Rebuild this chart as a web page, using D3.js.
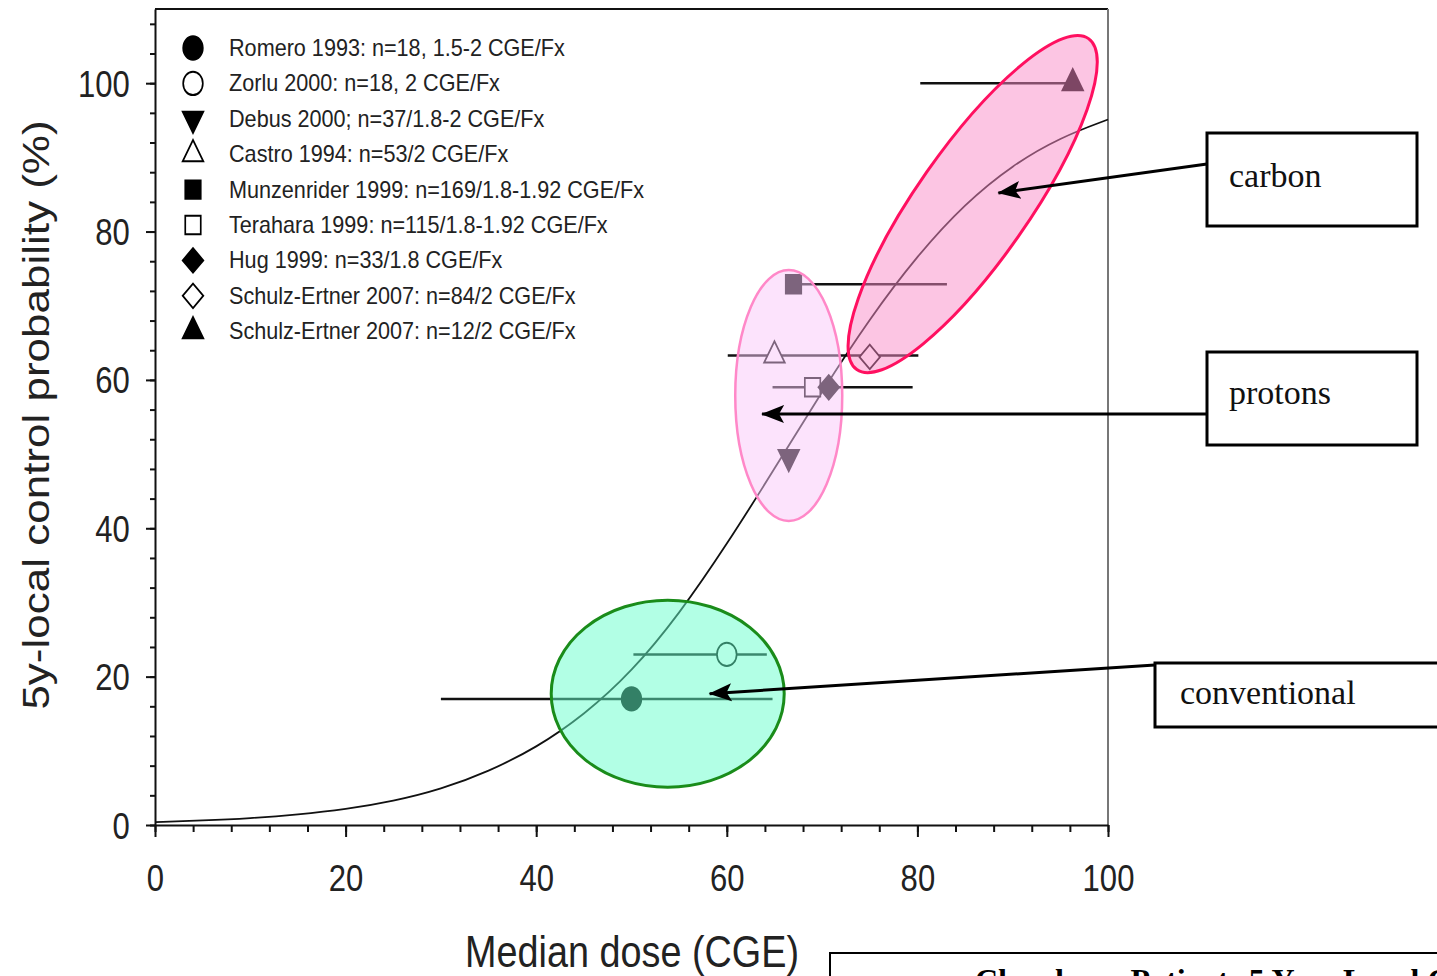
<!DOCTYPE html>
<html>
<head>
<meta charset="utf-8">
<script src="https://d3js.org/d3.v7.min.js"></script>
<style>
  body { margin: 0; background: #fff; overflow: hidden; }
  text { font-family: "Liberation Sans", Arial, sans-serif; }
  .serif { font-family: "Liberation Serif", "Times New Roman", serif; }
</style>
</head>
<body>
<div id="plot"></div>
<script>
// Study data
const studies = [
  "Romero 1993: n=18, 1.5-2 CGE/Fx",
  "Zorlu 2000: n=18, 2 CGE/Fx",
  "Debus 2000; n=37/1.8-2 CGE/Fx",
  "Castro 1994: n=53/2 CGE/Fx",
  "Munzenrider 1999: n=169/1.8-1.92 CGE/Fx",
  "Terahara 1999: n=115/1.8-1.92 CGE/Fx",
  "Hug 1999: n=33/1.8 CGE/Fx",
  "Schulz-Ertner 2007: n=84/2 CGE/Fx",
  "Schulz-Ertner 2007: n=12/2 CGE/Fx"
];
const shapes = ["circle", "circle", "triangleDown", "triangle", "square", "square", "diamond", "diamond", "triangle"];
const filled = [true, false, true, false, true, false, true, false, true];
const medianDose = [50, 60, 66.5, 65, 67, 69, 70.7, 75, 96.3];
const localControl = [17, 23, 49.6, 63.3, 72.9, 59, 59, 63.1, 100];
const doseLow = [30, 50.2, null, 60.1, 67, 64.8, null, null, 80.3];
const doseHigh = [64.8, 64.2, null, 80.1, 83.1, 79.5, null, null, 96.3];

// Dose-response curve
const curveDose = [0, 5, 10, 15, 20, 25, 30, 35, 40, 45, 50, 55, 60, 65, 70, 75, 80, 85, 90, 95, 100];
const curveProb = [0.4, 0.6, 0.9, 1.4, 2.1, 3.2, 4.8, 7.2, 10.4, 14.8, 20.6, 28.4, 37.8, 48, 58.5, 68.3, 76.8, 83.8, 89, 92.7, 95.1];

// Groups (ellipse centres and arrow tips, data units)
const groupNames = ["conventional", "protons", "carbon"];
const groupDose = [53.8, 66.5, 85.8];
const groupProb = [17.7, 57.9, 83.7];
const arrowTipDose = [58.2, 63.7, 88.5];
const arrowTipProb = [17.7, 55.4, 85.2];

// Axis ticks
const xMajor = [0, 20, 40, 60, 80, 100];
const yMajor = [0, 20, 40, 60, 80, 100];
const minorStep = 4;

const W = 1437, H = 976;
const sx = 0.84; // horizontal squeeze of the original picture

const svg = d3.select("#plot").append("svg")
    .attr("width", W)
    .attr("height", H);

const x = d3.scaleLinear().domain([0, 100]).range([155, 1108]);
const y = d3.scaleLinear().domain([0, 110]).range([825, 9]);

// Frame (top and right)
svg.append("line").attr("x1", 155).attr("x2", 1108).attr("y1", 9).attr("y2", 9)
    .attr("stroke", "#111").attr("stroke-width", 2);
svg.append("line").attr("x1", 1108).attr("x2", 1108).attr("y1", 9).attr("y2", 825)
    .attr("stroke", "#777").attr("stroke-width", 2);

// Minor ticks
svg.append("g").attr("transform", "translate(0,825)")
    .call(d3.axisBottom(x).tickValues(d3.range(0, 101, minorStep)).tickSize(7).tickSizeOuter(0).tickFormat(""))
    .call(g => g.selectAll("line,path").attr("stroke", "#111").attr("stroke-width", 2));
svg.append("g").attr("transform", "translate(155,0)")
    .call(d3.axisLeft(y).tickValues(d3.range(0, 109, minorStep)).tickSize(5).tickSizeOuter(0).tickFormat(""))
    .call(g => g.selectAll("line,path").attr("stroke", "#111").attr("stroke-width", 2));

// Major ticks with labels
svg.append("g").attr("transform", "translate(0,825)")
    .call(d3.axisBottom(x).tickValues(xMajor).tickSize(12).tickSizeOuter(0))
    .call(g => g.select(".domain").remove())
    .call(g => g.selectAll("line").attr("stroke", "#111").attr("stroke-width", 2))
    .call(g => g.selectAll("text")
        .attr("y", 66).attr("dy", null)
        .attr("transform", `scale(${sx},1)`)
        .attr("fill", "#222")
        .style("font-size", "37px")
        .style("font-family", "'Liberation Sans', Arial, sans-serif"));

svg.append("g").attr("transform", "translate(155,0)")
    .call(d3.axisLeft(y).tickValues(yMajor).tickSize(9).tickSizeOuter(0))
    .call(g => g.select(".domain").remove())
    .call(g => g.selectAll("line").attr("stroke", "#111").attr("stroke-width", 2))
    .call(g => g.selectAll("text")
        .attr("x", -30).attr("y", 13).attr("dy", null)
        .attr("transform", `scale(${sx},1)`)
        .attr("fill", "#222")
        .style("font-size", "37px")
        .style("font-family", "'Liberation Sans', Arial, sans-serif"));

// Axis titles
svg.append("text")
    .attr("transform", `translate(632,967) scale(${sx},1)`)
    .attr("text-anchor", "middle")
    .attr("fill", "#222")
    .style("font-size", "45px")
    .text("Median dose (CGE)");

svg.append("text")
    .attr("transform", `translate(49,415) scale(${sx},1) rotate(-90)`)
    .attr("text-anchor", "middle")
    .attr("fill", "#222")
    .style("font-size", "44px")
    .text("5y-local control probability (%)");

// Symbol helper
function symbolPath(shape) {
  if (shape === "circle") return d3.symbol(d3.symbolCircle, 430)();
  if (shape === "square") return d3.symbol(d3.symbolSquare, 340)();
  if (shape === "diamond") return d3.symbol(d3.symbolSquare, 300)();
  return d3.symbol(d3.symbolTriangle, 260)();
}
function symbolRotate(shape) {
  if (shape === "diamond") return 45;
  if (shape === "triangleDown") return 180;
  return 0;
}

// Legend
const legend = svg.append("g");
studies.forEach((name, i) => {
  const ly = 48 + i * 35.4;
  legend.append("path")
      .attr("d", symbolPath(shapes[i]))
      .attr("transform", `translate(193,${ly}) scale(${sx},1) rotate(${symbolRotate(shapes[i])})`)
      .attr("fill", filled[i] ? "#000" : "#fff")
      .attr("stroke", "#000")
      .attr("stroke-width", 2);
  legend.append("text")
      .attr("transform", `translate(229,${ly + 8}) scale(0.94,1)`)
      .attr("fill", "#222")
      .style("font-size", "23px")
      .text(name);
});

// Dose-response curve
const line = d3.line()
    .x((d, i) => x(curveDose[i]))
    .y(d => y(d))
    .curve(d3.curveBasis);
svg.append("path")
    .attr("d", line(curveProb))
    .attr("fill", "none")
    .attr("stroke", "#111")
    .attr("stroke-width", 1.8);

// Error bars
studies.forEach((name, i) => {
  if (doseLow[i] === null) return;
  svg.append("line")
      .attr("x1", x(doseLow[i])).attr("x2", x(doseHigh[i]))
      .attr("y1", y(localControl[i])).attr("y2", y(localControl[i]))
      .attr("stroke", "#111")
      .attr("stroke-width", 2.5);
});

// Markers
studies.forEach((name, i) => {
  svg.append("path")
      .attr("d", symbolPath(shapes[i]))
      .attr("transform", `translate(${x(medianDose[i])},${y(localControl[i])}) scale(${sx},1) rotate(${symbolRotate(shapes[i])})`)
      .attr("fill", filled[i] ? "#000" : "#fff")
      .attr("stroke", "#000")
      .attr("stroke-width", 2);
});

// Group ellipses drawn over the data
const ellipseStyle = [
  {rx: 116.5, ry: 93.5, angle: 0, fill: "rgb(102,255,204)", stroke: "#1a8c1a", width: 3},
  {rx: 53.5, ry: 125.5, angle: 0, fill: "rgb(250,200,250)", stroke: "#ff88c8", width: 2.5},
  {rx: 202, ry: 56, angle: -55, fill: "rgb(250,140,200)", stroke: "#ff1060", width: 3}
];
groupNames.forEach((name, i) => {
  const s = ellipseStyle[i];
  svg.append("ellipse")
      .attr("transform", `translate(${x(groupDose[i])},${y(groupProb[i])}) rotate(${s.angle})`)
      .attr("rx", s.rx)
      .attr("ry", s.ry)
      .attr("fill", s.fill)
      .attr("fill-opacity", 0.5)
      .attr("stroke", s.stroke)
      .attr("stroke-width", s.width);
});

// Arrow head
svg.append("defs").append("marker")
    .attr("id", "head")
    .attr("markerUnits", "userSpaceOnUse")
    .attr("markerWidth", 24)
    .attr("markerHeight", 20)
    .attr("viewBox", "0 0 24 20")
    .attr("refX", 22)
    .attr("refY", 10)
    .attr("orient", "auto")
    .append("path")
    .attr("d", "M0,1 L23,10 L0,19 L5,10 Z")
    .attr("fill", "#000");

// Callout boxes (outside the plot)
const boxes = [
  {x: 1155, y: 663, w: 320, h: 64, tx: 1180, ty: 704, ax: 1155, ay: 665},
  {x: 1207, y: 352, w: 210, h: 93, tx: 1229, ty: 404, ax: 1207, ay: 414},
  {x: 1207, y: 133, w: 210, h: 93, tx: 1229, ty: 187, ax: 1207, ay: 164}
];
groupNames.forEach((name, i) => {
  const b = boxes[i];
  svg.append("line")
      .attr("x1", b.ax).attr("y1", b.ay)
      .attr("x2", x(arrowTipDose[i])).attr("y2", y(arrowTipProb[i]))
      .attr("stroke", "#000")
      .attr("stroke-width", 3)
      .attr("marker-end", "url(#head)");
  svg.append("rect")
      .attr("x", b.x).attr("y", b.y)
      .attr("width", b.w).attr("height", b.h)
      .attr("fill", "#fff")
      .attr("stroke", "#000")
      .attr("stroke-width", 3);
  svg.append("text")
      .attr("class", "serif")
      .attr("x", b.tx).attr("y", b.ty)
      .attr("fill", "#111")
      .style("font-size", "34px")
      .text(name);
});

// Caption box cut by the page edge, as in the source
svg.append("rect")
    .attr("x", 830).attr("y", 953)
    .attr("width", 700).attr("height", 100)
    .attr("fill", "#fff")
    .attr("stroke", "#000")
    .attr("stroke-width", 2);
svg.append("text")
    .attr("class", "serif")
    .attr("x", 975).attr("y", 991)
    .attr("fill", "#000")
    .style("font-size", "32px")
    .style("font-weight", "bold")
    .text("Chordoma Patients 5 Year Local Control");
</script>
</body>
</html>
